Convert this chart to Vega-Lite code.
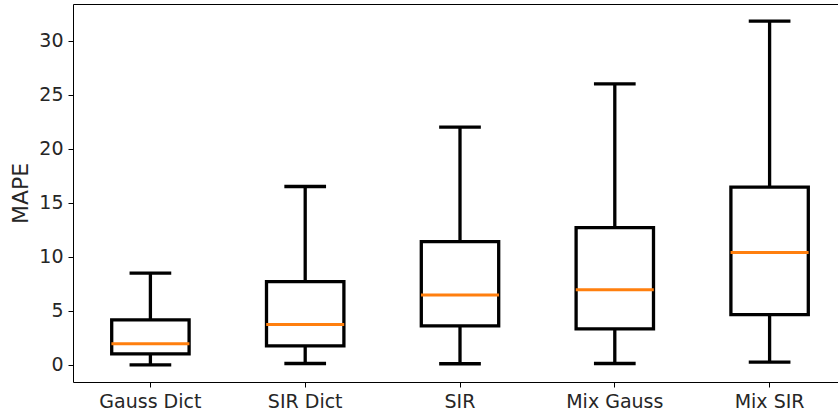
{
  "$schema": "https://vega.github.io/schema/vega-lite/v6.json",
  "autosize": {"type": "none"},
  "padding": {"left": 73, "top": 4, "right": 0, "bottom": 33},
  "width": 765,
  "height": 378,
  "background": "white",
  "config": {
    "font": "DejaVu Sans",
    "view": {"stroke": null},
    "axis": {
      "domain": true,
      "domainColor": "#000",
      "domainWidth": 1,
      "grid": false,
      "tickColor": "#000",
      "tickWidth": 1,
      "tickSize": 5,
      "labelFont": "DejaVu Sans",
      "labelFontSize": 19,
      "labelColor": "#262626",
      "labelPadding": 5,
      "titleFont": "DejaVu Sans",
      "titleFontSize": 22,
      "titleFontWeight": "normal",
      "titleColor": "#262626"
    }
  },
  "data": {
    "values": [
      {"model": "Gauss Dict", "lo": 0.0, "q1": 1.02, "med": 1.94, "q3": 4.16, "hi": 8.48},
      {"model": "SIR Dict", "lo": 0.12, "q1": 1.76, "med": 3.73, "q3": 7.7, "hi": 16.5},
      {"model": "SIR", "lo": 0.1, "q1": 3.6, "med": 6.45, "q3": 11.4, "hi": 22.0},
      {"model": "Mix Gauss", "lo": 0.12, "q1": 3.33, "med": 6.94, "q3": 12.7, "hi": 26.0},
      {"model": "Mix SIR", "lo": 0.25, "q1": 4.65, "med": 10.4, "q3": 16.45, "hi": 31.8}
    ]
  },
  "resolve": {"axis": {"x": "independent"}},
  "layer": [
    {
      "mark": {"type": "rule", "color": "#000", "strokeWidth": 3.3},
      "encoding": {
        "x": {
          "field": "model",
          "type": "nominal",
          "sort": null,
          "scale": {"range": [0, 774], "paddingInner": 0, "paddingOuter": 0},
          "axis": {"title": null, "labelAngle": 0, "orient": "bottom"}
        },
        "y": {
          "field": "lo",
          "type": "quantitative",
          "scale": {"domain": [-1.59, 33.39], "nice": false, "zero": false},
          "axis": {"title": "MAPE", "values": [0, 5, 10, 15, 20, 25, 30], "titlePadding": 6}
        },
        "y2": {"field": "hi"}
      }
    },
    {
      "mark": {"type": "tick", "color": "#000", "thickness": 3.3, "size": 41.7, "opacity": 1},
      "encoding": {
        "x": {"field": "model", "type": "nominal", "sort": null, "axis": null},
        "y": {"field": "lo", "type": "quantitative"}
      }
    },
    {
      "mark": {"type": "tick", "color": "#000", "thickness": 3.3, "size": 41.7, "opacity": 1},
      "encoding": {
        "x": {"field": "model", "type": "nominal", "sort": null, "axis": null},
        "y": {"field": "hi", "type": "quantitative"}
      }
    },
    {
      "mark": {"type": "bar", "fill": "white", "stroke": "#000", "strokeWidth": 3.3, "width": {"band": 0.5}},
      "encoding": {
        "x": {"field": "model", "type": "nominal", "sort": null, "axis": null},
        "y": {"field": "q1", "type": "quantitative"},
        "y2": {"field": "q3"}
      }
    },
    {
      "mark": {"type": "tick", "color": "#ff7f0e", "thickness": 3, "size": 78, "opacity": 1},
      "encoding": {
        "x": {
          "field": "model",
          "type": "nominal",
          "sort": null,
          "axis": {"orient": "top", "title": null, "labels": false, "ticks": false, "domain": true}
        },
        "y": {"field": "med", "type": "quantitative"}
      }
    }
  ]
}
